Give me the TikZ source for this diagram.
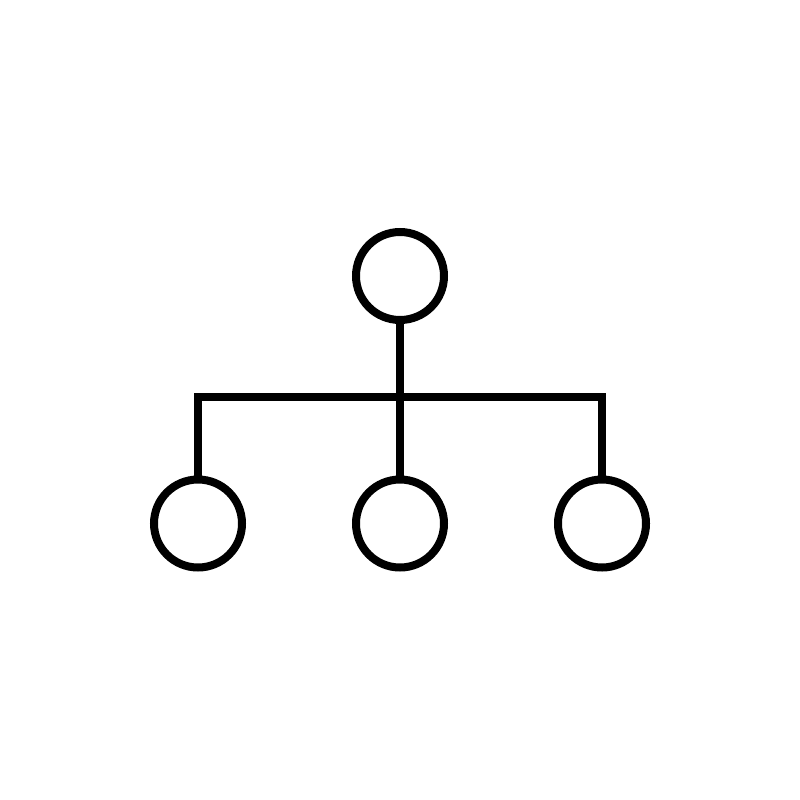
\documentclass[tikz,border=0pt]{standalone}
\usepackage{tikz}
\usetikzlibrary{positioning}

\begin{document}
\begin{tikzpicture}[x=1pt, y=-1pt,
		member/.style={circle, draw, line width=8pt, minimum size=88pt, inner sep=0pt},
		link/.style={line width=8pt}
		]
		\useasboundingbox[fill=white] (0,0) rectangle (800,800);

		\node[member] (root) at (400, 276) {};
		\foreach \x [count=\step from 1] in {198,400,602}
		\node[member] (kid\step) at (\x, 523.5) {};

		\coordinate (barl) at (198, 396.7);
		\coordinate (barr) at (602, 396.7);

		\draw[link] (kid1.north) -- (barl) -- (barr) -- (kid3.north);
		\draw[link] (root.south) -- (kid2.north);
\end{tikzpicture}
\end{document}
